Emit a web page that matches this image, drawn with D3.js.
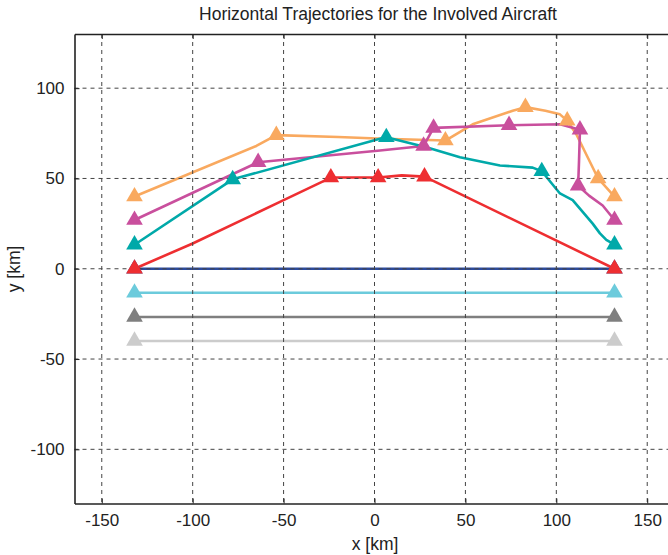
<!DOCTYPE html>
<html>
<head>
<meta charset="utf-8">
<script src="https://cdn.jsdelivr.net/npm/d3@7"></script>
<style>
  body { margin: 0; background: #fff; }
  text { font-family: "Liberation Sans", Arial, sans-serif; fill: #222; }
</style>
</head>
<body>
<div id="chart"></div>
<script>
// Axis ticks
var xTicks = [-150, -100, -50, 0, 50, 100, 150];
var yTicks = [-100, -50, 0, 50, 100];

// Aircraft names and colours (drawing order)
var aircraft = ["AC8", "AC7", "AC6", "AC5", "AC1", "AC2", "AC3", "AC4"];
var colors = ["#cccccc", "#7f7f7f", "#6ccbdc", "#2c4a9b", "#f9a95f", "#c94f9d", "#00a9a9", "#ee2e31"];

// Trajectory points [x, y] in km
var pathAC8 = [[-132, -40], [132, -40]];
var pathAC7 = [[-132, -26.7], [132, -26.7]];
var pathAC6 = [[-132, -13.3], [132, -13.3]];
var pathAC5 = [[-132, 0], [132, 0]];
var pathAC1 = [[-132, 40], [-65, 68], [-54, 74], [-20, 73], [5, 72], [39, 71], [54, 80], [76, 87.5], [83, 89.5],
  [94, 87.5], [102, 85.5], [106, 82], [111, 74.5], [123, 50], [132, 40]];
var pathAC2 = [[-132, 27], [-64, 59], [3, 65.5], [27, 68], [32.5, 78], [74, 79.5], [102, 80], [113, 77],
  [112.5, 60], [112, 46], [118, 40.5], [125.5, 35], [132, 27]];
var pathAC3 = [[-132, 13.3], [-78, 49.5], [3, 72], [6.5, 72.8], [28.5, 67.3], [47, 61.8], [69, 57.2], [87, 56],
  [92, 54], [102, 41.7], [109, 38], [120, 25], [124, 19.6], [127.5, 16], [132, 13.3]];
var pathAC4 = [[-132, 0], [-100, 14], [-52, 37], [-24, 50.5], [2, 50.5], [15, 51.7], [27.5, 51], [132, 0]];

// Waypoints shown as triangles
var waysAC8 = [[-132, -40], [132, -40]];
var waysAC7 = [[-132, -26.7], [132, -26.7]];
var waysAC6 = [[-132, -13.3], [132, -13.3]];
var waysAC5 = [[-132, 0], [132, 0]];
var waysAC1 = [[-132, 40], [-54, 74], [39, 71], [83, 89.5], [106, 82], [123, 50], [132, 40]];
var waysAC2 = [[-132, 27], [-64, 59], [27, 68], [32.5, 78], [74, 79.5], [113, 77], [112, 46], [132, 27]];
var waysAC3 = [[-132, 13.3], [-78, 49.5], [6.5, 72.8], [92, 54], [132, 13.3]];
var waysAC4 = [[-132, 0], [-24, 50.5], [2, 50.5], [27.5, 51], [132, 0]];

var paths = [pathAC8, pathAC7, pathAC6, pathAC5, pathAC1, pathAC2, pathAC3, pathAC4];
var ways = [waysAC8, waysAC7, waysAC6, waysAC5, waysAC1, waysAC2, waysAC3, waysAC4];

var svgWidth = 668;
var svgHeight = 555;
var margin = { top: 34, left: 74.5 };
var width = 600;
var height = 469.5;

var svg = d3.select("#chart")
  .append("svg")
  .attr("width", svgWidth)
  .attr("height", svgHeight);

var g = svg.append("g")
  .attr("transform", `translate(${margin.left}, ${margin.top})`);

var xScale = d3.scaleLinear().domain([-165, 165]).range([0, width]);
var yScale = d3.scaleLinear().domain([-130, 130]).range([height, 0]);

// Trajectories
var line = d3.line()
  .x(d => xScale(d[0]))
  .y(d => yScale(d[1]));

g.selectAll(".traj")
  .data(paths)
  .enter()
  .append("path")
  .attr("d", line)
  .attr("fill", "none")
  .attr("stroke", (d, i) => colors[i])
  .attr("stroke-width", 2.6)
  .attr("stroke-linejoin", "round");

// Grid on top of lines
var grid = g.append("g")
  .attr("stroke", "#444")
  .attr("stroke-width", 1)
  .attr("stroke-dasharray", "4,4");

grid.selectAll(".vgrid")
  .data(xTicks)
  .enter()
  .append("line")
  .attr("x1", d => xScale(d)).attr("x2", d => xScale(d))
  .attr("y1", 0).attr("y2", height);

grid.selectAll(".hgrid")
  .data(yTicks)
  .enter()
  .append("line")
  .attr("x1", 0).attr("x2", width)
  .attr("y1", d => yScale(d)).attr("y2", d => yScale(d));

// Waypoint markers
var tri = d3.symbol().type(d3.symbolTriangle).size(120);
ways.forEach(function(pts, i) {
  g.selectAll(".m" + i)
    .data(pts)
    .enter()
    .append("path")
    .attr("d", tri)
    .attr("transform", d => `translate(${xScale(d[0])}, ${yScale(d[1])})`)
    .attr("fill", colors[i]);
});

// Axes (ticks inward), plain hyphen minus in labels
var fmt = d => String(d);
var bottomAxis = d3.axisBottom(xScale).tickValues(xTicks).tickFormat(fmt).tickSizeInner(-5).tickSizeOuter(0).tickPadding(10);
var leftAxis = d3.axisLeft(yScale).tickValues(yTicks).tickFormat(fmt).tickSizeInner(-5).tickSizeOuter(0).tickPadding(10);
var topAxis = d3.axisTop(xScale).tickValues(xTicks).tickSizeInner(-5).tickSizeOuter(0).tickFormat("");

var xAxisG = g.append("g")
  .attr("transform", `translate(0, ${height})`)
  .call(bottomAxis);
var yAxisG = g.append("g").call(leftAxis);
var tAxisG = g.append("g").call(topAxis);

[xAxisG, yAxisG, tAxisG].forEach(function(a) {
  a.select(".domain").attr("stroke", "#222").attr("stroke-width", 1.6);
  a.selectAll(".tick line").attr("stroke", "#222").attr("stroke-width", 1);
  a.selectAll(".tick text").attr("font-size", 17).attr("fill", "#222");
});

// Labels
svg.append("text")
  .text("Horizontal Trajectories for the Involved Aircraft")
  .attr("x", 378)
  .attr("y", 20)
  .attr("text-anchor", "middle")
  .attr("font-size", 17.5);

svg.append("text")
  .text("x [km]")
  .attr("x", 375)
  .attr("y", 550)
  .attr("text-anchor", "middle")
  .attr("font-size", 17.5);

svg.append("text")
  .text("y [km]")
  .attr("transform", "rotate(-90)")
  .attr("x", -269)
  .attr("y", 20)
  .attr("text-anchor", "middle")
  .attr("font-size", 17.5);
</script>
</body>
</html>
